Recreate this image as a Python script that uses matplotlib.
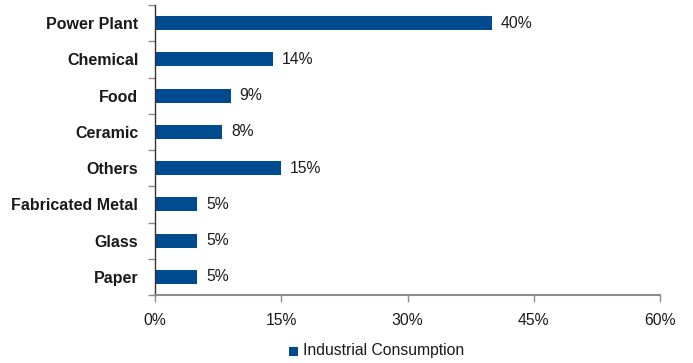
import matplotlib
matplotlib.use("Agg")
import matplotlib.pyplot as plt
from matplotlib.ticker import FixedLocator, FuncFormatter
from matplotlib.patches import Rectangle

categories = ["Power Plant", "Chemical", "Food", "Ceramic", "Others",
              "Fabricated Metal", "Glass", "Paper"]
values = [40, 14, 9, 8, 15, 5, 5, 5]
x_ticks = [0, 15, 30, 45, 60]
series_name = "Industrial Consumption"

bar_color = "#004A8F"
text_color = "#1a1a1a"

plt.rcParams["font.family"] = ["Liberation Sans", "DejaVu Sans"]

fig = plt.figure(figsize=(6.93, 3.63), dpi=100)
ax = fig.add_axes([155 / 693, 1 - 295 / 363, (660 - 155) / 693, (295 - 5) / 363])

ypos = list(range(len(categories)))
ax.barh(ypos, values, height=0.39, color=bar_color, zorder=2)

for y, v in zip(ypos, values):
    ax.text(v + 1.05, y, f"{v}%", va="center", ha="left",
            fontsize=11.3, color=text_color)

ax.set_xlim(0, 60)
ax.set_ylim(len(categories) - 0.5, -0.5)

ax.xaxis.set_major_locator(FixedLocator(x_ticks))
ax.xaxis.set_major_formatter(FuncFormatter(lambda v, p: f"{v:.0f}%"))
ax.tick_params(axis="x", direction="out", length=5, width=1, color="#8c8c8c",
               labelsize=11.3, labelcolor=text_color, pad=8)

# category names sit at bar centres, tick marks at the slot boundaries
ax.set_yticks(ypos)
ax.set_yticklabels(categories, fontsize=11.5, fontweight="bold", color=text_color)
ax.tick_params(axis="y", which="major", length=0, pad=12)
ax.set_yticks([i - 0.5 for i in range(len(categories) + 1)], minor=True)
ax.tick_params(axis="y", which="minor", direction="out", length=5, width=1,
               color="#8c8c8c")

for side in ("top", "right"):
    ax.spines[side].set_visible(False)
ax.spines["left"].set_color("#333333")
ax.spines["left"].set_linewidth(1)
ax.spines["bottom"].set_color("#8c8c8c")
ax.spines["bottom"].set_linewidth(1.5)

# legend entry below the axis
fig.patches.append(Rectangle((289 / 693, 1 - 356 / 363), 9 / 693, 9 / 363,
                             transform=fig.transFigure, facecolor=bar_color,
                             edgecolor="none"))
fig.text(303 / 693, 1 - 351 / 363, series_name, fontsize=11.3,
         color=text_color, va="center", ha="left")

fig.savefig("out.png", dpi=100, facecolor="white")
